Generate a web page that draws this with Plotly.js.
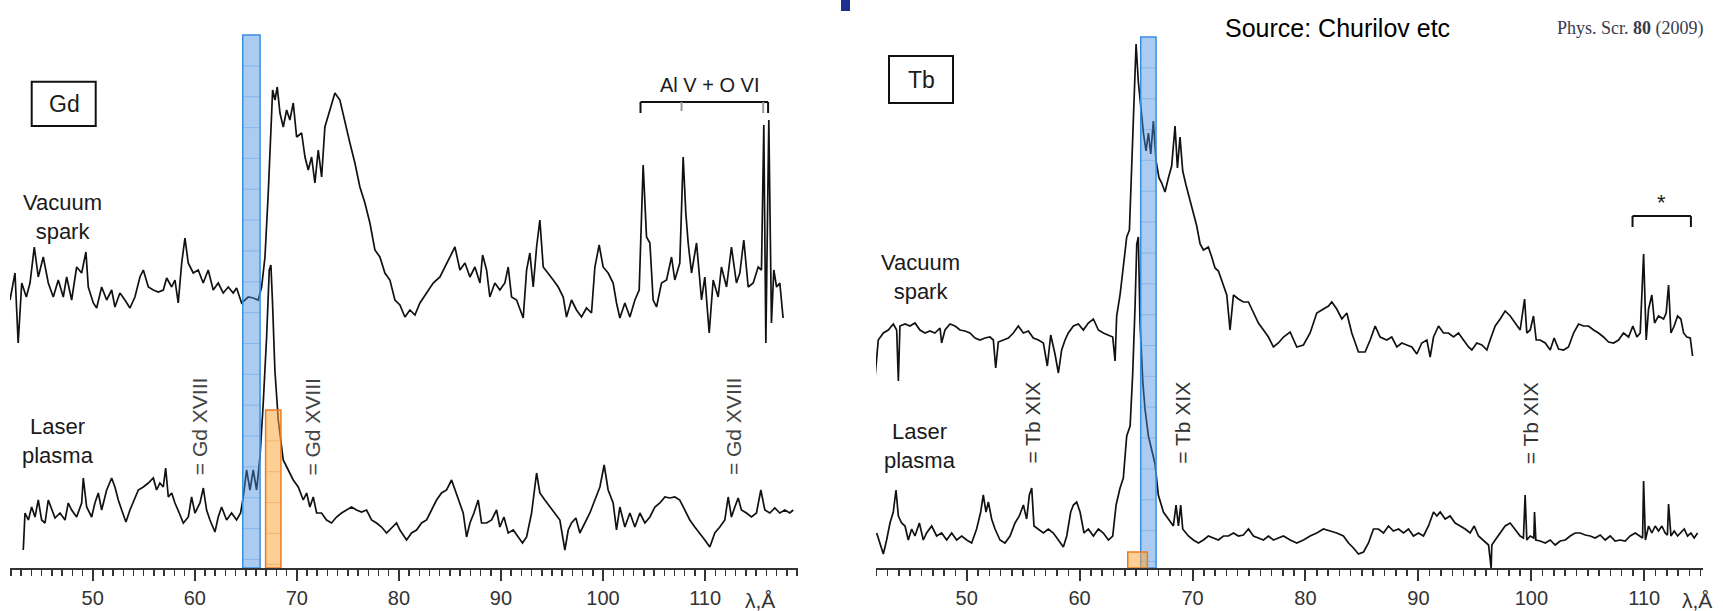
<!DOCTYPE html>
<html>
<head>
<meta charset="utf-8">
<script src="https://cdn.plot.ly/plotly-3.0.1.min.js"></script>
<style>html,body{margin:0;padding:0;background:#fff;}#chart{width:1723px;height:611px;}</style>
</head>
<body>
<div id="chart"></div>
<script>
// ---- Data: [wavelength (Å), intensity (arb. units)] ----
const gdSpark = [[41.9,268],[42.39,295],[42.7,225],[43.05,285],[43.5,271],[43.86,285],[44.28,321],[44.67,291],[45.16,311],[45.65,285],[46.14,271],[46.63,288],[47.12,271],[47.45,291],[47.94,268],[48.43,301],[48.92,295],[49.34,316],[49.57,281],[50.06,265],[50.39,260],[50.88,281],[51.37,268],[51.86,278],[52.18,261],[52.67,275],[53.16,268],[53.65,260],[54.14,271],[54.63,291],[54.96,298],[55.45,281],[55.94,278],[56.43,276],[56.92,278],[57.25,290],[57.74,281],[58.06,288],[58.38,265],[58.72,305],[59.04,330],[59.36,305],[59.85,295],[60.34,298],[60.83,285],[61.32,298],[61.81,278],[62.3,285],[62.79,275],[63.28,281],[63.77,275],[64.1,280],[64.59,265],[64.92,268],[65.24,271],[65.73,270],[66.22,268],[66.55,281],[66.88,311],[67.2,375],[67.43,431],[67.63,478],[67.86,468],[68.08,481],[68.35,455],[68.67,441],[69.0,458],[69.32,448],[69.65,465],[69.98,431],[70.47,435],[70.8,411],[71.12,398],[71.45,411],[71.77,385],[72.1,418],[72.43,391],[72.75,441],[73.24,458],[73.73,475],[74.22,468],[74.71,445],[75.2,425],[75.69,405],[76.18,381],[76.67,365],[77.16,345],[77.65,318],[78.14,311],[78.63,295],[79.12,288],[79.61,268],[80.1,263],[80.59,251],[81.08,258],[81.57,253],[82.06,265],[82.71,275],[83.36,285],[84.02,291],[84.51,301],[85.0,311],[85.49,321],[85.98,298],[86.47,305],[86.96,291],[87.45,301],[87.94,285],[88.2,313],[88.59,298],[88.91,271],[89.4,285],[89.89,278],[90.38,285],[90.71,301],[91.04,271],[91.53,268],[92.18,250],[92.51,298],[92.83,315],[93.16,281],[93.49,321],[93.81,348],[94.14,301],[94.63,295],[95.12,288],[95.61,281],[96.1,271],[96.42,251],[96.91,268],[97.4,258],[97.89,251],[98.38,260],[98.87,255],[99.2,301],[99.62,323],[100.01,301],[100.5,295],[100.99,285],[101.32,265],[101.65,250],[102.14,265],[102.63,251],[103.12,268],[103.54,278],[103.93,403],[104.26,331],[104.59,325],[104.91,268],[105.24,261],[105.73,285],[106.22,288],[106.71,311],[107.03,288],[107.52,305],[107.85,411],[108.11,355],[108.34,325],[108.67,295],[109.16,325],[109.65,268],[109.97,291],[110.4,235],[110.79,288],[111.28,271],[111.6,301],[112.1,281],[112.58,321],[113.07,285],[113.4,295],[113.79,328],[114.22,281],[114.71,285],[115.2,301],[115.52,298],[115.75,443],[115.95,225],[116.24,448],[116.5,245],[116.73,298],[117.0,281],[117.32,285],[117.64,250]];

const gdLaser = [[43.2,18],[43.37,55],[43.7,48],[44.02,61],[44.35,51],[44.67,68],[45.0,48],[45.33,45],[45.65,68],[45.98,58],[46.31,50],[46.8,55],[47.29,48],[47.61,65],[47.94,58],[48.43,51],[48.92,65],[49.08,90],[49.41,61],[49.9,51],[50.22,65],[50.55,75],[50.88,58],[51.37,78],[51.86,90],[52.18,81],[52.51,68],[52.84,58],[53.26,46],[53.65,58],[54.14,70],[54.47,78],[54.96,81],[55.45,85],[55.94,90],[56.26,78],[56.59,85],[56.92,81],[57.15,100],[57.41,71],[57.74,75],[58.06,65],[58.48,55],[58.88,45],[59.37,51],[59.69,71],[60.02,55],[60.51,65],[60.84,80],[61.16,58],[61.49,48],[61.98,36],[62.3,51],[62.63,61],[63.12,48],[63.61,55],[64.1,48],[64.49,55],[64.75,71],[65.08,98],[65.41,78],[65.73,98],[66.06,78],[66.39,111],[66.71,165],[67.04,231],[67.3,298],[67.46,303],[67.62,265],[67.85,198],[68.18,148],[68.67,108],[69.16,98],[69.65,88],[70.14,81],[70.63,68],[70.96,75],[71.28,61],[71.61,71],[71.94,55],[72.42,55],[72.91,48],[73.4,45],[73.89,51],[74.38,55],[74.87,58],[75.36,61],[75.85,58],[76.34,56],[76.83,58],[77.32,48],[77.81,45],[78.3,41],[78.79,35],[79.28,40],[79.77,45],[80.1,38],[80.75,28],[81.24,35],[81.73,38],[82.22,45],[82.71,48],[83.2,58],[83.69,68],[84.18,75],[84.67,78],[85.16,88],[85.49,78],[85.98,65],[86.3,55],[86.63,31],[86.96,45],[87.35,55],[87.77,68],[88.1,45],[88.59,45],[89.08,48],[89.57,58],[89.89,41],[90.29,51],[90.71,35],[91.2,38],[91.69,31],[92.11,25],[92.51,31],[93.0,55],[93.49,95],[93.81,75],[94.3,68],[94.79,61],[95.28,55],[95.77,48],[96.26,18],[96.59,38],[96.91,45],[97.34,50],[97.73,35],[98.22,45],[98.71,55],[99.2,68],[99.69,81],[100.11,103],[100.5,78],[100.99,65],[101.32,38],[101.65,61],[102.14,41],[102.63,55],[103.12,41],[103.61,55],[104.1,45],[104.59,51],[105.08,61],[105.57,65],[106.06,71],[106.54,70],[107.03,71],[107.52,68],[108.01,58],[108.5,48],[108.99,41],[109.48,35],[109.97,28],[110.46,21],[110.95,35],[111.44,41],[111.93,48],[112.26,71],[112.58,51],[112.91,61],[113.24,70],[113.56,58],[114.05,55],[114.54,51],[115.03,55],[115.46,78],[115.85,58],[116.34,55],[116.83,60],[117.32,55],[117.81,58],[118.3,55],[118.63,58]];

const tbSpark = [[41.88,190],[42.17,228],[42.62,235],[43.06,238],[43.5,244],[43.8,238],[43.95,187],[44.09,242],[44.54,244],[44.98,242],[45.42,245],[45.86,238],[46.31,235],[46.75,237],[47.19,235],[47.64,240],[47.78,225],[48.08,238],[48.52,244],[48.97,242],[49.41,238],[49.85,237],[50.29,235],[50.74,230],[51.18,228],[51.62,230],[52.06,231],[52.36,228],[52.57,200],[52.8,226],[53.25,228],[53.69,230],[54.13,235],[54.57,242],[55.02,235],[55.46,237],[55.9,230],[56.35,228],[56.79,225],[57.14,202],[57.44,233],[57.82,214],[58.12,195],[58.41,218],[58.71,228],[59.0,235],[59.45,242],[59.89,244],[60.33,238],[60.77,245],[61.22,249],[61.66,238],[62.1,235],[62.55,233],[62.93,231],[63.14,207],[63.28,252],[63.58,273],[63.87,300],[64.17,331],[64.41,338],[64.61,400],[64.82,469],[65.0,524],[65.2,486],[65.41,459],[65.65,435],[65.88,417],[66.09,435],[66.3,414],[66.53,447],[66.77,407],[67.03,390],[67.27,385],[67.56,376],[67.86,390],[68.15,402],[68.45,442],[68.66,400],[68.89,431],[69.13,397],[69.42,383],[69.78,369],[70.07,355],[70.37,342],[70.67,324],[70.96,318],[71.4,321],[71.7,311],[71.99,300],[72.29,297],[72.73,283],[73.03,273],[73.32,238],[73.62,273],[74.06,269],[74.5,266],[74.95,266],[75.39,255],[75.83,245],[76.28,238],[76.72,231],[77.16,221],[77.6,225],[78.05,231],[78.64,236],[79.23,221],[79.82,223],[80.41,235],[81.0,255],[81.59,259],[82.04,262],[82.33,266],[82.77,259],[83.22,249],[83.66,255],[84.1,235],[84.69,216],[85.28,216],[85.73,228],[86.17,242],[86.61,231],[87.2,228],[87.64,231],[88.09,221],[88.53,225],[88.97,223],[89.42,221],[89.86,214],[90.3,225],[90.75,228],[91.04,211],[91.34,231],[91.78,242],[92.22,235],[92.66,235],[93.11,231],[93.55,235],[93.99,228],[94.44,221],[94.73,218],[95.17,225],[95.62,223],[96.06,218],[96.35,228],[96.8,242],[97.24,249],[97.68,257],[98.13,252],[98.57,245],[99.01,238],[99.4,269],[99.6,235],[99.9,238],[100.19,252],[100.43,228],[100.78,228],[101.23,225],[101.67,218],[102.02,230],[102.41,219],[102.85,218],[103.29,221],[103.74,235],[104.18,244],[104.62,242],[105.06,242],[105.51,238],[105.95,235],[106.39,231],[106.84,226],[107.28,225],[107.72,228],[108.16,235],[108.61,231],[108.99,242],[109.35,231],[109.64,235],[109.94,314],[110.17,228],[110.38,259],[110.67,273],[110.91,245],[111.26,252],[111.71,249],[111.94,255],[112.15,283],[112.36,235],[112.65,242],[112.95,252],[113.24,249],[113.48,235],[113.77,231],[114.07,230],[114.28,212]];

const tbLaser = [[42.03,35],[42.32,25],[42.62,14],[42.91,28],[43.21,45],[43.5,56],[43.74,78],[43.95,52],[44.24,45],[44.54,42],[44.83,28],[45.13,39],[45.42,32],[45.81,45],[46.16,28],[46.45,35],[46.9,42],[47.34,32],[47.78,35],[48.23,28],[48.67,35],[49.11,28],[49.56,32],[50.0,28],[50.44,25],[50.88,39],[51.24,56],[51.47,73],[51.71,56],[51.92,66],[52.21,49],[52.51,39],[52.95,28],[53.39,25],[53.84,32],[54.28,45],[54.66,52],[55.02,63],[55.31,49],[55.55,73],[55.76,80],[55.96,42],[56.35,39],[56.79,35],[57.23,39],[57.67,35],[58.12,28],[58.56,21],[58.86,32],[59.21,56],[59.45,63],[59.74,66],[60.04,56],[60.39,35],[60.77,39],[61.22,32],[61.66,39],[62.1,35],[62.55,28],[62.93,32],[63.23,63],[63.58,80],[63.87,90],[64.17,132],[64.47,142],[64.7,194],[64.91,262],[65.06,324],[65.2,331],[65.35,245],[65.59,187],[65.79,159],[66.09,132],[66.38,118],[66.68,104],[66.97,73],[67.42,56],[67.86,49],[68.3,42],[68.54,63],[68.75,42],[68.95,63],[69.13,39],[69.63,32],[70.07,28],[70.52,25],[70.96,28],[71.4,32],[71.85,30],[72.29,28],[72.73,32],[73.18,32],[73.62,35],[74.06,32],[74.5,33],[74.95,39],[75.39,32],[75.83,30],[76.28,28],[76.72,32],[77.16,28],[77.6,30],[78.05,32],[78.64,28],[79.23,25],[79.82,28],[80.41,32],[81.0,35],[81.59,39],[82.18,37],[82.77,35],[83.36,32],[83.81,25],[84.25,20],[84.69,14],[85.14,16],[85.58,25],[86.02,39],[86.46,39],[86.91,35],[87.35,42],[87.79,37],[88.24,39],[88.68,35],[89.12,39],[89.56,32],[90.01,35],[90.45,32],[90.89,42],[91.34,56],[91.63,52],[91.93,56],[92.37,49],[92.81,52],[93.25,45],[93.7,42],[94.14,39],[94.58,35],[94.94,42],[95.32,32],[95.76,28],[96.21,23],[96.44,0],[96.5,23],[96.8,28],[97.24,35],[97.68,42],[98.13,45],[98.57,39],[99.01,32],[99.3,30],[99.45,73],[99.6,28],[99.9,32],[100.22,30],[100.28,56],[100.4,28],[100.78,27],[101.23,25],[101.67,28],[102.11,23],[102.56,27],[103.0,28],[103.44,32],[103.88,35],[104.33,35],[104.77,33],[105.21,32],[105.65,30],[106.1,33],[106.54,28],[106.98,32],[107.42,27],[107.87,28],[108.31,27],[108.75,32],[109.2,35],[109.64,32],[109.85,30],[109.94,87],[110.1,28],[110.38,42],[110.67,35],[110.97,42],[111.26,37],[111.56,42],[111.85,35],[112.05,33],[112.15,64],[112.36,32],[112.65,37],[112.95,32],[113.24,35],[113.54,39],[113.83,32],[114.13,35],[114.42,30],[114.72,35]];

// axis ticks
const tickValues = [50, 60, 70, 80, 90, 100, 110];
const tickLabels = ['50', '60', '70', '80', '90', '100', '110'];

// highlighted wavelength bands [x0, x1, top intensity]
const gdBlueBand = [64.7, 66.4, 533];
const gdOrangeBand = [66.94, 68.44, 158];
const tbBlueBand = [65.41, 66.77, 531];
const tbOrangeBand = [64.26, 66.0, 16];

// line identification labels (wavelength)
const gdLines = [60.43, 71.45, 112.74];
const tbLines = [55.75, 69.04, 99.9];

// ---- helpers ----
const W = 1723, H = 611;
const X = p => p / W;
const Y = p => 1 - p / H;
const FONT = 'Liberation Sans, Arial, sans-serif';

function xy(arr) { return {x: arr.map(d => d[0]), y: arr.map(d => d[1])}; }
function spec(arr, xa) {
  const d = xy(arr);
  return {type: 'scatter', mode: 'lines', x: d.x, y: d.y, xaxis: xa, yaxis: 'y',
          line: {color: '#111', width: 1.7}, hoverinfo: 'skip', showlegend: false};
}

const traces = [
  spec(gdSpark, 'x'), spec(gdLaser, 'x'),
  spec(tbSpark, 'x2'), spec(tbLaser, 'x2')
];

const shapes = [];
function band(b, xref, fill, border, yBottom) {
  shapes.push({type: 'rect', xref: xref, yref: 'y', x0: b[0], x1: b[1], y0: yBottom, y1: b[2],
               fillcolor: fill, line: {color: border, width: 1.5}, layer: 'above'});
  // faint inner grid lines
  let path = '';
  for (let v = b[2] - 30.85; v > yBottom + 3; v -= 30.85) {
    path += `M${b[0]},${v} L${b[1]},${v} `;
  }
  if (path) shapes.push({type: 'path', xref: xref, yref: 'y', path: path,
                         line: {color: border, width: 0.6}, opacity: 0.55, layer: 'above'});
}
const BLUE_FILL = 'rgba(70,140,225,0.45)', BLUE_LINE = '#3a8ee2';
const OR_FILL = 'rgba(250,170,60,0.55)', OR_LINE = '#f07a20';
band(gdBlueBand, 'x', BLUE_FILL, BLUE_LINE, 0);
band(gdOrangeBand, 'x', OR_FILL, OR_LINE, 0);
band(tbBlueBand, 'x2', BLUE_FILL, BLUE_LINE, 0);
band(tbOrangeBand, 'x2', OR_FILL, OR_LINE, 0);

// label boxes
shapes.push({type: 'rect', xref: 'paper', yref: 'paper', x0: X(31.7), x1: X(95.7), y0: Y(126), y1: Y(81.7),
             line: {color: '#111', width: 2}, fillcolor: 'rgba(0,0,0,0)'});
shapes.push({type: 'rect', xref: 'paper', yref: 'paper', x0: X(889), x1: X(953), y0: Y(103), y1: Y(56),
             line: {color: '#111', width: 2}, fillcolor: 'rgba(0,0,0,0)'});
// small navy marker at top
shapes.push({type: 'rect', xref: 'paper', yref: 'paper', x0: X(841), x1: X(850), y0: Y(11), y1: Y(0),
             line: {width: 0}, fillcolor: '#1d2f8f'});

// brackets
function seg(xref, x0, y0, x1, y1, color) {
  shapes.push({type: 'line', xref: xref, yref: 'y', x0: x0, y0: y0, x1: x1, y1: y1,
               line: {color: color || '#111', width: 2}});
}
seg('x', 103.67, 466, 116.17, 466);
seg('x', 103.67, 466, 103.67, 455);
seg('x', 107.69, 466, 107.69, 457, '#999');
seg('x', 115.69, 466, 115.69, 455, '#999');
seg('x', 116.17, 466, 116.17, 455);
seg('x2', 108.96, 352, 114.13, 352);
seg('x2', 108.96, 352, 108.96, 341);
seg('x2', 114.13, 352, 114.13, 341);

const ann = [];
function txt(text, x, y, size, opts) {
  ann.push(Object.assign({text: text, x: x, y: y, xref: 'paper', yref: 'paper', showarrow: false,
    xanchor: 'center', yanchor: 'middle', font: {family: FONT, size: size, color: '#1a1a1a'}}, opts || {}));
}
txt('Gd', X(64), Y(104), 23);
txt('Tb', X(921), Y(80), 23);
txt('Vacuum<br>spark', X(63), Y(217), 22);
txt('Laser<br>plasma', X(58), Y(441), 22);
txt('Vacuum<br>spark', X(920), Y(277), 22);
txt('Laser<br>plasma', X(920), Y(446), 22);
txt('λ,Å', X(760), Y(600), 21, {font: {family: FONT, size: 21, color: '#333'}});
txt('λ,Å', X(1697), Y(600), 21, {font: {family: FONT, size: 21, color: '#333'}});
txt('Source: Churilov etc', X(1337), Y(28), 25, {font: {family: FONT, size: 25, color: '#000'}});
txt('Phys. Scr. <b>80</b> (2009)', X(1630), Y(29), 18,
    {font: {family: 'Liberation Serif, Times New Roman, serif', size: 18, color: '#3a3a4c'}});
ann.push({text: 'Al V + O VI', x: 110.46, y: 483, xref: 'x', yref: 'y', showarrow: false,
          font: {family: FONT, size: 20, color: '#1a1a1a'}});
ann.push({text: '*', x: 111.56, y: 366, xref: 'x2', yref: 'y', showarrow: false,
          font: {family: FONT, size: 22, color: '#1a1a1a'}});
gdLines.forEach(w => ann.push({text: '= Gd XVIII', x: w, y: 141, xref: 'x', yref: 'y', showarrow: false,
  textangle: -90, font: {family: FONT, size: 21, color: '#444'}}));
tbLines.forEach(w => ann.push({text: '= Tb XIX', x: w, y: 145, xref: 'x2', yref: 'y', showarrow: false,
  textangle: -90, font: {family: FONT, size: 21, color: '#333'}}));

function xaxis(domain, range) {
  return {domain: domain, range: range, anchor: 'y', showgrid: false, zeroline: false,
    showline: true, linecolor: '#333', linewidth: 2,
    ticks: 'outside', tickmode: 'array', tickvals: tickValues, ticktext: tickLabels,
    ticklen: 11, tickwidth: 2, tickcolor: '#333',
    minor: {tickmode: 'linear', tick0: 0, dtick: 1, ticks: 'outside', ticklen: 6, tickwidth: 1.5, tickcolor: '#333'},
    tickfont: {family: FONT, size: 20, color: '#333'}, fixedrange: true};
}

const layout = {
  width: W, height: H, margin: {l: 0, r: 0, t: 0, b: 0},
  paper_bgcolor: '#fff', plot_bgcolor: '#fff', showlegend: false,
  xaxis: xaxis([X(10), X(798)], [41.9, 119.1]),
  xaxis2: xaxis([X(876), X(1703)], [41.97, 115.2]),
  yaxis: {domain: [43 / H, 1], range: [0, 568], visible: false, fixedrange: true},
  shapes: shapes, annotations: ann
};

Plotly.newPlot('chart', traces, layout, {displayModeBar: false, staticPlot: true});
</script>
</body>
</html>
